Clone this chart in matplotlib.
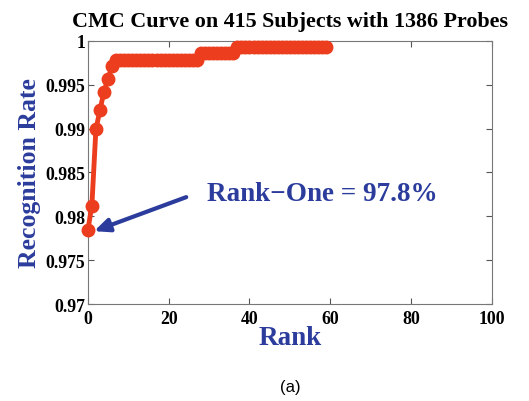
import numpy as np
import matplotlib
matplotlib.use("Agg")
import matplotlib.pyplot as plt

# Данные CMC-кривой (ранг, доля распознавания)
ranks = np.arange(0, 60)
rates = ([0.9784, 0.9812, 0.9899, 0.9921, 0.9942, 0.9957, 0.9971]
         + [0.9978] * 21
         + [0.9986] * 9
         + [0.9993] * 23)
x_ticks = [0, 20, 40, 60, 80, 100]
y_ticks = [0.97, 0.975, 0.98, 0.985, 0.99, 0.995, 1]
y_labels = ["0.97", "0.975", "0.98", "0.985", "0.99", "0.995", "1"]

red = "#EC3D1E"
blue = "#2B3C9C"
serif = "Liberation Serif"

fig = plt.figure(figsize=(5.29, 4.02), dpi=100)
ax = fig.add_axes([0.166, 0.241, 0.764, 0.655])

ax.plot(ranks, rates, color=red, lw=3.5, marker="o", ms=9,
        markeredgecolor=red, markerfacecolor=red, clip_on=False, zorder=3)

ax.set_xlim(0, 100)
ax.set_ylim(0.97, 1)
ax.set_xticks(x_ticks)
ax.set_yticks(y_ticks)
ax.set_yticklabels(y_labels)
ax.tick_params(direction="in", top=True, right=True, length=4, width=0.8,
               color="#555555")
ax.tick_params(axis="x", pad=4)
ax.tick_params(axis="y", pad=2)
for lab in ax.get_xticklabels() + ax.get_yticklabels():
    lab.set_fontfamily(serif)
    lab.set_fontweight("bold")
    lab.set_fontsize(12.8)
for s in ax.spines.values():
    s.set_color("#777777")
    s.set_linewidth(0.8)

ax.set_title("CMC Curve on 415 Subjects with 1386 Probes", fontfamily=serif,
             fontweight="bold", fontsize=15.8, pad=11)
ax.set_xlabel("Rank", fontfamily=serif, fontweight="bold", fontsize=19.5,
              color=blue, labelpad=-1)
ax.set_ylabel("Recognition Rate", fontfamily=serif, fontweight="bold",
              fontsize=18.5, color=blue, labelpad=3)

# Стрелка и подпись Rank-One
ax.annotate("", xy=(0.9, 0.9782), xytext=(25, 0.9823),
            arrowprops=dict(arrowstyle="-|>,head_length=0.9,head_width=0.4",
                            color=blue, lw=3), zorder=4)
ax.text(29.5, 0.98255, "Rank\u2212One = 97.8%", fontfamily=serif,
        fontweight="bold", fontsize=19.5, color=blue, va="center", ha="left")

fig.text(0.548, 0.037, "(a)", fontfamily="Liberation Sans", fontsize=12,
         ha="center", va="center")

fig.savefig("out.png", dpi=100)
